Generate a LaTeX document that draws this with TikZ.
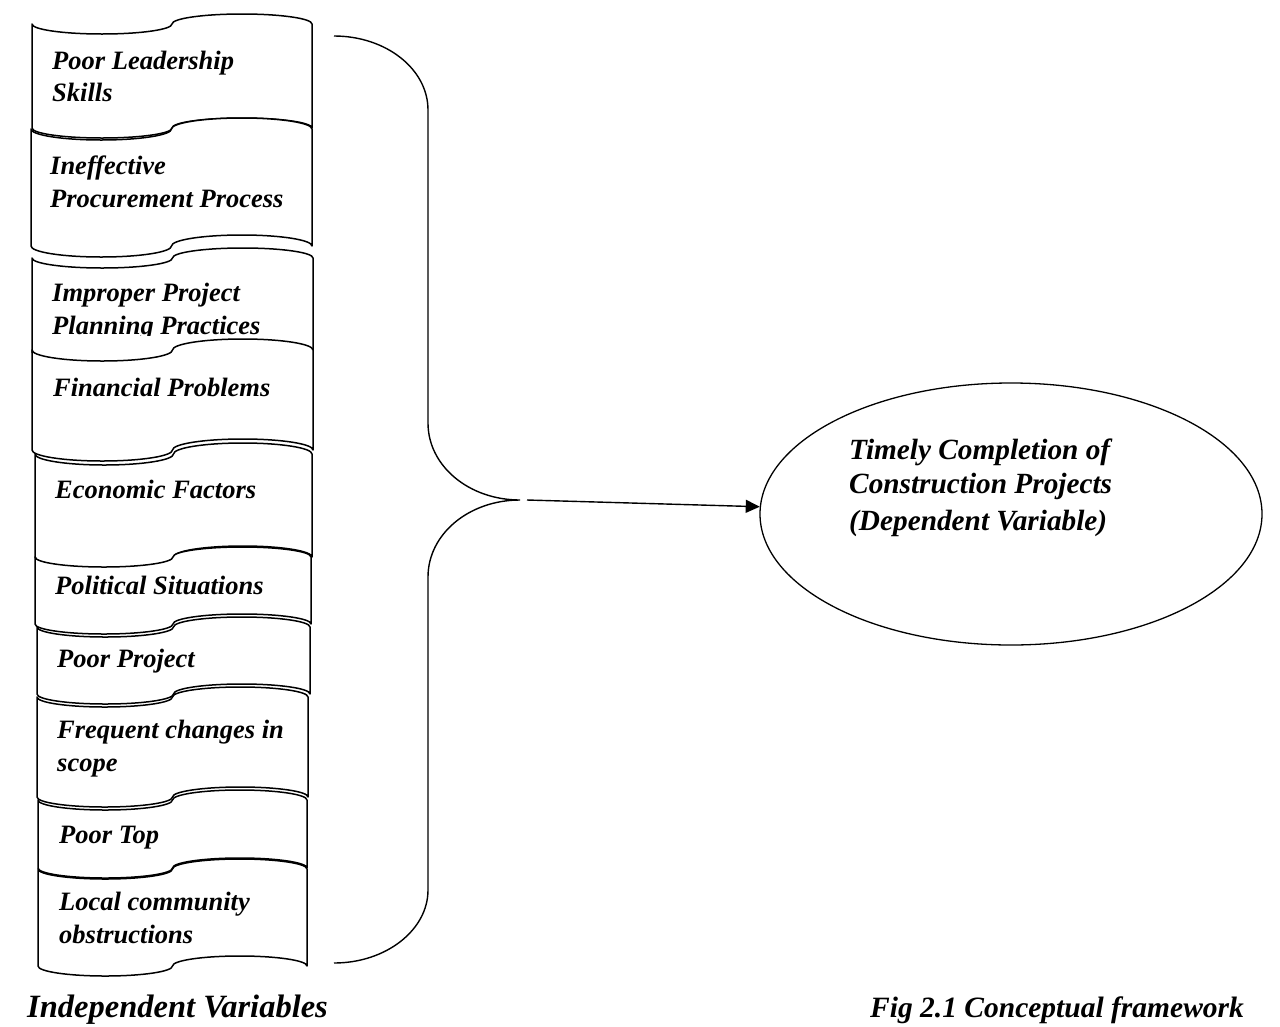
\documentclass[tikz,border=0pt]{standalone}
\usepackage{fontspec}
\setmainfont{Liberation Serif}
\usetikzlibrary{shapes.geometric,arrows.meta}
\newcommand\wavebox[5]{%
 \pgfmathsetmacro\wq{(#2-#1)/4}%
 \pgfmathsetmacro\wk{0.5523*\wq}%
 \pgfmathsetmacro\wka{0.5523*#5}%
 \pgfmathsetmacro\wxq{#1+\wq}\pgfmathsetmacro\wxm{#1+2*\wq}\pgfmathsetmacro\wxr{#1+3*\wq}%
 \path[wave] (#1,#3) .. controls (#1,#3+\wka) and (\wxq-\wk,#3+#5) .. (\wxq,#3+#5)
   .. controls (\wxq+\wk,#3+#5) and (\wxm,#3+\wka) .. (\wxm,#3)
   .. controls (\wxm,#3-\wka) and (\wxr-\wk,#3-#5) .. (\wxr,#3-#5)
   .. controls (\wxr+\wk,#3-#5) and (#2,#3-\wka) .. (#2,#3)
   -- (#2,#4)
   .. controls (#2,#4-\wka) and (\wxr+\wk,#4-#5) .. (\wxr,#4-#5)
   .. controls (\wxr-\wk,#4-#5) and (\wxm,#4-\wka) .. (\wxm,#4)
   .. controls (\wxm,#4+\wka) and (\wxq+\wk,#4+#5) .. (\wxq,#4+#5)
   .. controls (\wxq-\wk,#4+#5) and (#1,#4+\wka) .. (#1,#4) -- cycle;}
\begin{document}
\begin{tikzpicture}[x=1pt,y=-1pt,
  wave/.style={draw=black,fill=white,line width=1.5pt,line join=round},
  lbl/.style={anchor=base west,inner sep=0pt,font=\fontsize{26.5}{32}\selectfont\bfseries\itshape},
  dlbl/.style={anchor=base west,inner sep=0pt,font=\fontsize{29.3}{34}\selectfont\bfseries\itshape},
  big/.style={anchor=base west,inner sep=0pt,font=\fontsize{32.5}{40}\selectfont\bfseries\itshape},
  fig/.style={anchor=base west,inner sep=0pt,font=\fontsize{29.5}{36}\selectfont\bfseries\itshape},
  brace/.style={draw=black,line width=1.4pt},
  arr/.style={draw=black,line width=1.4pt,-{Triangle[length=14pt,width=13pt]}}]
\useasboundingbox[fill=white] (0,0) rectangle (1280,1026);
% boxes
\wavebox{32}{312}{24}{128}{10}
\node[lbl] (t1a) at (52,69) {Poor Leadership};
\node[lbl] (t1b) at (52,101) {Skills};
\wavebox{31}{312}{129}{246}{11}
\node[lbl] (t2a) at (50,174) {Ineffective};
\node[lbl] (t2b) at (50,207) {Procurement Process};
\wavebox{32}{313}{258}{352}{10}
\begin{scope}
\clip (32,258) rectangle (313,335);
\node[lbl] (t3a) at (52,301) {Improper Project};
\node[lbl] (t3b) at (52,334) {Planning Practices};
\end{scope}
\wavebox{32}{313}{350}{450}{11}
\node[lbl] (t4) at (53,396) {Financial Problems};
\wavebox{35}{312}{454}{557}{11}
\node[lbl] (t5) at (55,498) {Economic Factors};
\wavebox{35}{311}{557}{624}{10}
\node[lbl] (t6) at (55,594) {Political Situations};
\wavebox{37}{310}{627}{694}{10}
\node[lbl] (t7) at (57,667) {Poor Project};
\wavebox{37}{308}{697}{797}{10}
\node[lbl] (t8a) at (57,738) {Frequent changes in};
\node[lbl] (t8b) at (57,771) {scope};
\wavebox{38}{307}{800}{868}{10}
\node[lbl] (t9) at (59,843) {Poor Top};
\wavebox{38}{307}{869}{966}{10}
\node[lbl] (t10a) at (59,910) {Local community};
\node[lbl] (t10b) at (59,943) {obstructions};
% brace
\coordinate (btop) at (334,36);
\coordinate (tip) at (520,500);
\coordinate (bbot) at (334,963);
\coordinate (tipR) at (527,500);
\path[brace] (btop) .. controls (386,36) and (428,69) .. (428,110) -- (428,423)
  .. controls (428,466) and (469,500) .. (tip)
  .. controls (469,500) and (428,534) .. (428,577) -- (428,890)
  .. controls (428,930) and (386,963) .. (bbot);
% dependent variable
\node[draw=black,line width=1.3pt,ellipse,minimum width=502pt,minimum height=262pt,inner sep=0pt] (dep) at (1011,514) {};
\node[dlbl] (d1) at (849,459) {Timely Completion of};
\node[dlbl] (d2) at (849,493) {Construction Projects};
\node[dlbl] (d3) at (849,530) {(Dependent Variable)};
\path[arr] (tipR) -- (dep);
% captions
\node[big] (cap1) at (27,1017) {Independent Variables};
\node[fig] (cap2) at (870,1017) {Fig 2.1 Conceptual framework};
\end{tikzpicture}
\end{document}
